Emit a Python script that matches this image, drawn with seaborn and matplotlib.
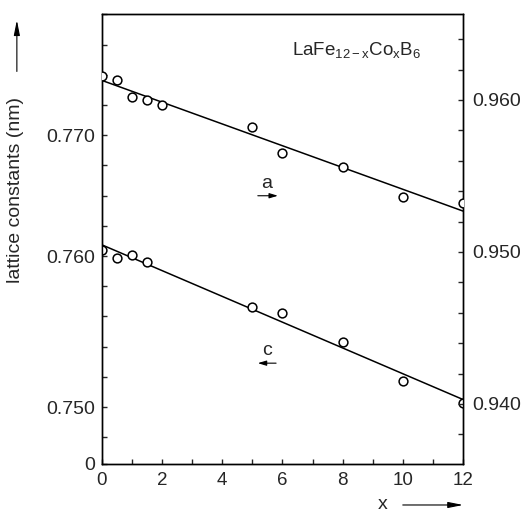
import numpy as np
import pandas as pd
import matplotlib
matplotlib.use("Agg")
import matplotlib.pyplot as plt
from matplotlib.ticker import MultipleLocator
import seaborn as sns

# lattice constant a (right axis) and c (left axis) vs Co content x
x_a = [0, 0.5, 1, 1.5, 2, 5, 6, 8, 10, 12]
a_nm = [0.9616, 0.9613, 0.9602, 0.9600, 0.9597, 0.9582, 0.9565, 0.9556, 0.9536, 0.9532]
x_c = [0, 0.5, 1, 1.5, 5, 6, 8, 10, 12]
c_nm = [0.7604, 0.7599, 0.7601, 0.7596, 0.7566, 0.7562, 0.7543, 0.7517, 0.7503]

left_ticks = [0.74623, 0.750, 0.760, 0.768]
left_labels = ["0", "0.750", "0.760", "0.770"]
right_ticks = [0.940, 0.950, 0.960]
right_labels = ["0.940", "0.950", "0.960"]
x_ticks = [0, 2, 4, 6, 8, 10, 12]

sns.set_style("ticks")
plt.rcParams["font.family"] = ["Liberation Sans", "DejaVu Sans"]
plt.rcParams["mathtext.fontset"] = "custom"
plt.rcParams["mathtext.rm"] = "Liberation Sans"
plt.rcParams["mathtext.it"] = "Liberation Sans:italic"

fig = plt.figure(figsize=(5.27, 5.12), dpi=100)
ax = fig.add_axes([0.1935, 0.0938, 0.685, 0.879])
ax2 = ax.twinx()

ax.set_xlim(0, 12)
ax.set_ylim(0.74623, 0.77603)
ax2.set_ylim(0.93605, 0.96566)

# fitted lines
sns.regplot(x=x_c, y=c_nm, ax=ax, scatter=False, ci=None, truncate=False,
            color="black", line_kws={"lw": 1.1})
sns.regplot(x=x_a, y=a_nm, ax=ax2, scatter=False, ci=None, truncate=False,
            color="black", line_kws={"lw": 1.1})

# open circles
sns.scatterplot(x=x_c, y=c_nm, ax=ax, s=40, marker="o", facecolor="white",
                edgecolor="black", linewidth=1.1, zorder=3)
sns.scatterplot(x=x_a, y=a_nm, ax=ax2, s=40, marker="o", facecolor="white",
                edgecolor="black", linewidth=1.1, zorder=3)

ax.set_xlim(0, 12)
ax.set_ylim(0.74623, 0.77603)
ax2.set_ylim(0.93605, 0.96566)
ax.set_xlabel("")
ax.set_ylabel("")
ax2.set_ylabel("")

ax.set_xticks(x_ticks)
ax.set_xticklabels([str(t) for t in x_ticks])
ax.xaxis.set_minor_locator(MultipleLocator(1))
ax.set_yticks(left_ticks)
ax.set_yticklabels(left_labels)
ax.yaxis.set_minor_locator(MultipleLocator(0.002))
ax2.set_yticks(right_ticks)
ax2.set_yticklabels(right_labels)
ax2.yaxis.set_minor_locator(MultipleLocator(0.002))

ax.tick_params(axis="both", which="both", direction="in", length=3.5, width=1.0,
               labelsize=14, top=False, right=False, pad=5)
ax.tick_params(axis="x", labelsize=13.5, pad=6)
ax2.tick_params(axis="y", which="both", direction="in", length=3.5, width=1.0,
                labelsize=14, pad=7)
for a in (ax, ax2):
    for s in a.spines.values():
        s.set_visible(True)
        s.set_linewidth(1.0)
        s.set_color("black")

ax.text(0.526, 0.92, r"LaFe$_\mathrm{12-x}$Co$_\mathrm{x}$B$_\mathrm{6}$",
        transform=ax.transAxes, fontsize=13.5, ha="left", va="center")

# a / c labels with arrows
ax.text(0.457, 0.624, "a", transform=ax.transAxes, fontsize=14, ha="center", va="center")
ax.annotate("", xy=(0.495, 0.596), xytext=(0.424, 0.596), xycoords="axes fraction",
            arrowprops=dict(arrowstyle="-|>,head_length=0.5,head_width=0.15",
                            color="black", lw=0.8, mutation_scale=10))
ax.text(0.457, 0.253, "c", transform=ax.transAxes, fontsize=14, ha="center", va="center")
ax.annotate("", xy=(0.424, 0.224), xytext=(0.490, 0.224), xycoords="axes fraction",
            arrowprops=dict(arrowstyle="-|>,head_length=0.5,head_width=0.15",
                            color="black", lw=0.8, mutation_scale=10))

# axis titles with arrows
fig.text(0.0285, 0.629, "lattice constants (nm)", rotation=90, fontsize=14,
         ha="center", va="center")
fig.add_artist(matplotlib.patches.FancyArrowPatch(
    (0.032, 0.855), (0.032, 0.966), transform=fig.transFigure,
    arrowstyle="-|>,head_length=0.9,head_width=0.18", color="black", lw=0.8,
    mutation_scale=10))
fig.text(0.727, 0.0137, "x", fontsize=14, ha="center", va="center")
fig.add_artist(matplotlib.patches.FancyArrowPatch(
    (0.759, 0.0137), (0.884, 0.0137), transform=fig.transFigure,
    arrowstyle="-|>,head_length=0.9,head_width=0.18", color="black", lw=0.8,
    mutation_scale=10))

fig.savefig("out.png", dpi=100)
